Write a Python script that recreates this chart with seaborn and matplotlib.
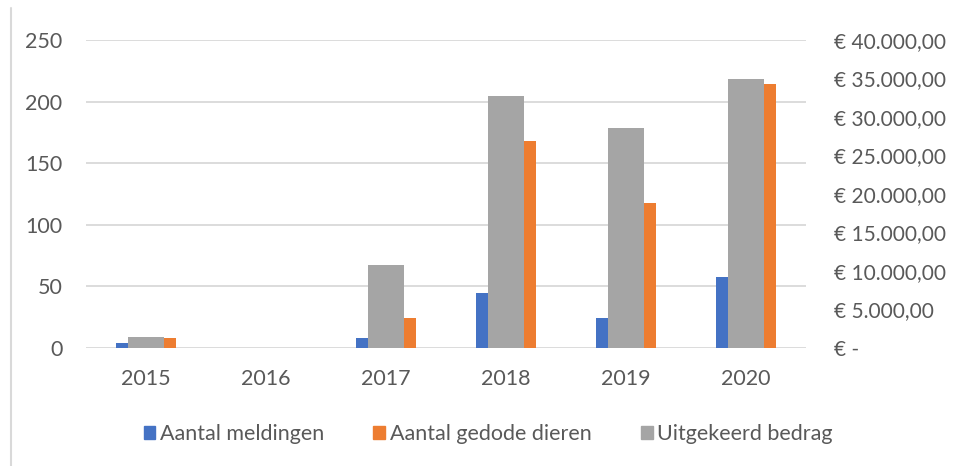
import matplotlib
matplotlib.use("Agg")
import matplotlib.pyplot as plt
import seaborn as sns
import pandas as pd
from matplotlib.ticker import FuncFormatter
from matplotlib.patches import Patch
from matplotlib.lines import Line2D

years = ["2015", "2016", "2017", "2018", "2019", "2020"]
meldingen = [4, 0, 8, 45, 24, 58]
gedode_dieren = [8, 0, 24, 168, 118, 214]
bedrag = [1400, 0, 10800, 32700, 28600, 35000]

left_ticks = [0, 50, 100, 150, 200, 250]
right_ticks = [0, 5000, 10000, 15000, 20000, 25000, 30000, 35000, 40000]

BLUE = "#4472C4"
ORANGE = "#ED7D31"
GRAY = "#A5A5A5"
TXT = "#595959"
GRID = "#D9D9D9"

sns.set_theme(style="white")
plt.rcParams["font.family"] = ["Lato", "DejaVu Sans"]

fig = plt.figure(figsize=(9.59, 4.66), dpi=100)
ax = fig.add_axes([86/959, 1-348/466, (806-86)/959, (348-40)/466])

df = pd.DataFrame({
    "jaar": years * 2,
    "waarde": meldingen + gedode_dieren,
    "serie": ["Aantal meldingen"] * 6 + ["Aantal gedode dieren"] * 6,
})
sns.barplot(data=df, x="jaar", y="waarde", hue="serie", order=years,
            hue_order=["Aantal meldingen", "Aantal gedode dieren"],
            palette=[BLUE, ORANGE], width=0.8, dodge=True, ax=ax,
            legend=False, saturation=1, linewidth=0)
# narrow bars, centers at +-0.2
for p in ax.patches:
    cx = p.get_x() + p.get_width() / 2
    newc = 0.2 if (cx - round(cx)) > 0 else -0.2
    base = round(cx)
    p.set_width(0.1)
    p.set_x(base + newc - 0.05)

ax.set_ylim(0, 250)
ax.set_xlim(-0.5, 5.5)
ax.set_yticks(left_ticks)
ax.grid(axis="y", color=GRID, linewidth=1.3)
ax.set_axisbelow(True)
for s in ax.spines.values():
    s.set_visible(False)
ax.set_xlabel("")
ax.set_ylabel("")
ax.tick_params(axis="y", length=0, pad=17, labelsize=15.5, labelcolor=TXT)
ax.tick_params(axis="x", length=0, pad=15, labelsize=15.5, labelcolor=TXT)

ax2 = ax.twinx()
sns.barplot(x=years, y=bedrag, order=years, color=GRAY, width=0.3, ax=ax2,
            saturation=1, linewidth=0)
ax2.set_ylim(0, 40000)
ax2.set_xlim(-0.5, 5.5)
ax2.set_yticks(right_ticks)

def euro(v, pos):
    if v == 0:
        return "€ -"
    s = f"{v:,.2f}".replace(",", "X").replace(".", ",").replace("X", ".")
    return "€ " + s

ax2.yaxis.set_major_formatter(FuncFormatter(euro))
ax2.tick_params(axis="y", length=0, pad=20, labelsize=15, labelcolor=TXT)
for lab in ax2.get_yticklabels():
    lab.set_horizontalalignment("left")
for s in ax2.spines.values():
    s.set_visible(False)
ax2.set_ylabel("")
ax2.grid(False)

handles = [Patch(color=BLUE, label="Aantal meldingen"),
           Patch(color=ORANGE, label="Aantal gedode dieren"),
           Patch(color=GRAY, label="Uitgekeerd bedrag")]
leg = fig.legend(handles=handles, loc="center", bbox_to_anchor=(488/959, 1-434/466),
                 ncol=3, frameon=False, fontsize=15.5, handlelength=0.55,
                 handleheight=0.55, handletextpad=0.2, columnspacing=2.3)
for t in leg.get_texts():
    t.set_color(TXT)

fig.add_artist(Line2D([11/959, 11/959], [0, 1-8/466], color=GRID, linewidth=1.5))

fig.savefig("out.png", dpi=100)
